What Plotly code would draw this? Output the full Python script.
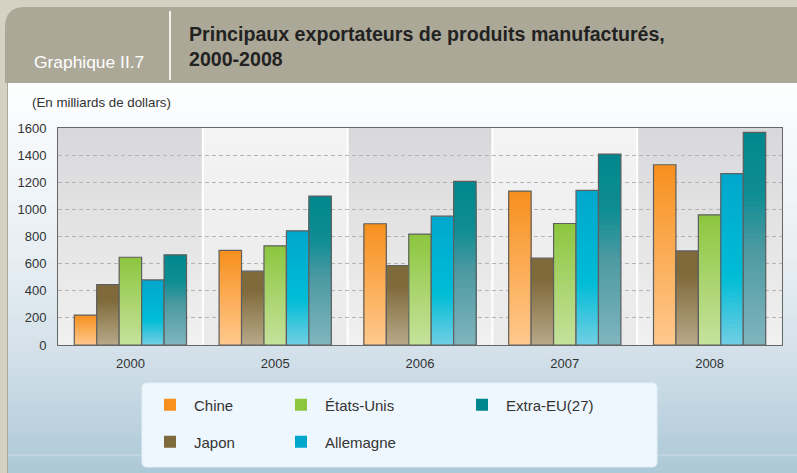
import plotly.graph_objects as go

# ---------------- data ----------------
years = ["2000", "2005", "2006", "2007", "2008"]
series_names = ["Chine", "Japon", "États-Unis", "Allemagne", "Extra-EU(27)"]
chine = [220, 697, 894, 1135, 1329]
japon = [445, 544, 586, 640, 694]
etats_unis = [647, 731, 817, 896, 960]
allemagne = [480, 842, 950, 1140, 1263]
extra_eu = [665, 1098, 1206, 1408, 1568]
values = [chine, japon, etats_unis, allemagne, extra_eu]
y_ticks = [0, 200, 400, 600, 800, 1000, 1200, 1400, 1600]

# colour stops (fraction of bar height from bottom, colour)
stops = [
    [(0.0, "#ffc98e"), (1.0, "#f7901e")],
    [(0.0, "#b9a98a"), (0.75, "#7f6a3b"), (1.0, "#7f6a3b")],
    [(0.0, "#c6e29c"), (1.0, "#8cc63f")],
    [(0.0, "#72cfe3"), (0.4, "#00bcd6"), (1.0, "#00a7cc")],
    [(0.0, "#80b5be"), (0.45, "#4d9aa2"), (0.7, "#0f8d93"), (1.0, "#00878d")],
]

W, H = 797, 473
L, R, T, B = 58, 782, 128, 345


def hex2rgb(h):
    h = h.lstrip("#")
    return tuple(int(h[i:i + 2], 16) for i in (0, 2, 4))


def mix(c1, c2, t):
    a, b = hex2rgb(c1), hex2rgb(c2)
    return "rgb(%d,%d,%d)" % tuple(round(a[i] + (b[i] - a[i]) * t) for i in range(3))


def color_at(st, t):
    for (t0, c0), (t1, c1) in zip(st[:-1], st[1:]):
        if t0 <= t <= t1:
            return mix(c0, c1, (t - t0) / (t1 - t0) if t1 > t0 else 0)
    return mix(st[-1][1], st[-1][1], 0)


def px(x):
    return (x - L) / (R - L)


def py(y):
    return (B - y) / (B - T)


fig = go.Figure()

N = 40
bw = 0.155
for s, (name, vals) in enumerate(zip(series_names, values)):
    off = -2.5 * bw + s * bw
    for k in range(N):
        frac = 1 - k / N
        tmid = 1 - (k + 0.5) / N
        fig.add_trace(go.Bar(
            x=years, y=[v * frac for v in vals],
            name=name, width=bw, offset=off,
            marker=dict(color=color_at(stops[s], tmid if k > 0 else 1.0), line=dict(width=0)),
            showlegend=(k == 0), legend=("legend" if s == 0 else "legend%d" % (s + 1)),
            hoverinfo="skip",
        ))
    fig.add_trace(go.Bar(
        x=years, y=vals, name=name, width=bw, offset=off,
        marker=dict(color="rgba(0,0,0,0)", line=dict(width=1.2, color="#5f5f5f")),
        showlegend=False, hovertemplate=name + " %{x}: %{y}<extra></extra>",
    ))

shapes = []
# body gradient (piecewise)
body_stops = [(0.0, "#fdfeff"), (0.45, "#e6eef3"), (0.7, "#d2e0e9"), (1.0, "#abc8d7")]
steps = 70
y0, y1 = 83, 475
for i in range(steps):
    a = y0 + (y1 - y0) * i / steps
    b = y0 + (y1 - y0) * (i + 1) / steps
    shapes.append(dict(type="rect", xref="paper", yref="paper", layer="below",
                       x0=px(8), x1=px(800), y0=py(a), y1=py(b + 0.5),
                       fillcolor=color_at(body_stops, (i + 0.5) / steps), line=dict(width=0)))
shapes.append(dict(type="line", xref="paper", yref="paper", layer="below",
                   x0=px(7.5), x1=px(7.5), y0=py(83), y1=py(475), line=dict(color="#a9a796", width=1)))
# header band with rounded top-left corner
r = 20
path = "M %f,%f L %f,%f L %f,%f L %f,%f Q %f,%f %f,%f Z" % (
    px(5), py(83), px(800), py(83), px(800), py(7), px(5 + r), py(7),
    px(5), py(7), px(5), py(7 + r))
shapes.append(dict(type="path", xref="paper", yref="paper", layer="below", path=path,
                   fillcolor="#aca898", line=dict(width=0)))
shapes.append(dict(type="line", xref="paper", yref="paper", layer="below",
                   x0=px(170), x1=px(170), y0=py(11), y1=py(80), line=dict(color="#f4f2ec", width=2)))
# faint line near bottom
shapes.append(dict(type="line", xref="paper", yref="paper", layer="below",
                   x0=px(8), x1=px(800), y0=py(455), y1=py(455), line=dict(color="#d0dde5", width=1)))
# category bands
bsteps = 24
for i in range(len(years)):
    dark = i % 2 == 0
    ct, cb = ("#d9d9db", "#f0f0f0") if dark else ("#f3f3f3", "#eaeaea")
    for j in range(bsteps):
        shapes.append(dict(type="rect", xref="x", yref="paper", layer="below",
                           x0=i - 0.5, x1=i + 0.5, y0=1 - (j + 1) / bsteps, y1=1 - j / bsteps + 0.002,
                           fillcolor=mix(ct, cb, j / (bsteps - 1)), line=dict(width=0)))
for i in range(1, len(years)):
    shapes.append(dict(type="line", xref="x", yref="paper", layer="below",
                       x0=i - 0.5, x1=i - 0.5, y0=0, y1=1, line=dict(color="#ffffff", width=2)))
# legend box
lx0, lx1, ly0, ly1, rr = 142, 657, 383, 467, 5
lpath = ("M %f,%f L %f,%f Q %f,%f %f,%f L %f,%f Q %f,%f %f,%f L %f,%f Q %f,%f %f,%f "
         "L %f,%f Q %f,%f %f,%f Z") % (
    px(lx0 + rr), py(ly0), px(lx1 - rr), py(ly0), px(lx1), py(ly0), px(lx1), py(ly0 + rr),
    px(lx1), py(ly1 - rr), px(lx1), py(ly1), px(lx1 - rr), py(ly1),
    px(lx0 + rr), py(ly1), px(lx0), py(ly1), px(lx0), py(ly1 - rr),
    px(lx0), py(ly0 + rr), px(lx0), py(ly0), px(lx0 + rr), py(ly0))
shapes.append(dict(type="path", xref="paper", yref="paper", layer="below", path=lpath,
                   fillcolor="#eef7fd", line=dict(color="#e2eef6", width=1)))

font = "Liberation Sans, Arial, sans-serif"
annotations = [
    dict(text="Graphique II.7", x=px(32), y=py(62), xref="paper", yref="paper",
         xanchor="left", yanchor="middle", showarrow=False,
         font=dict(family=font, size=17.4, color="#ffffff")),
    dict(text="<b>Principaux exportateurs de produits manufacturés,<br>2000-2008</b>",
         x=px(187), y=py(46), xref="paper", yref="paper", align="left",
         xanchor="left", yanchor="middle", showarrow=False,
         font=dict(family=font, size=19.6, color="#222222")),
    dict(text="(En milliards de dollars)", x=px(30), y=py(103), xref="paper", yref="paper",
         xanchor="left", yanchor="middle", showarrow=False,
         font=dict(family=font, size=13.3, color="#333333")),
]

# legends: positions (legend left px, centre y px)
leg_pos = [(146, 405), (146, 442), (277, 405), (277, 442), (458, 405)]
legends = {}
for s, (lxp, lyp) in enumerate(leg_pos):
    key = "legend" if s == 0 else "legend%d" % (s + 1)
    legends[key] = dict(x=px(lxp), y=py(lyp), xanchor="left", yanchor="middle",
                        bgcolor="rgba(0,0,0,0)", borderwidth=0, itemwidth=38,
                        font=dict(family=font, size=15, color="#333333"))

fig.update_layout(
    width=W, height=H, margin=dict(l=L, r=W - R, t=T, b=H - B),
    paper_bgcolor="#d6d1c3", plot_bgcolor="rgba(0,0,0,0)",
    barmode="overlay", shapes=shapes, annotations=annotations,
    font=dict(family=font, size=13, color="#333333"),
    xaxis=dict(type="category", range=[-0.5, 4.5], showgrid=False, showline=True,
               linecolor="#666666", linewidth=1, mirror=True, ticks="",
               ticklabelstandoff=6, tickfont=dict(size=13, color="#333333")),
    yaxis=dict(range=[0, 1600], tickvals=y_ticks, showgrid=True, gridcolor="#b4b4b4",
               griddash="4px,3px", gridwidth=1, showline=True, linecolor="#666666",
               linewidth=1, mirror=True, zeroline=False, ticks="",
               ticklabelstandoff=8, tickfont=dict(size=13, color="#333333")),
    **legends,
)

fig.write_html("out.html", config={"displayModeBar": False},
               post_script="document.body.style.margin='0';document.body.style.overflow='hidden';")
